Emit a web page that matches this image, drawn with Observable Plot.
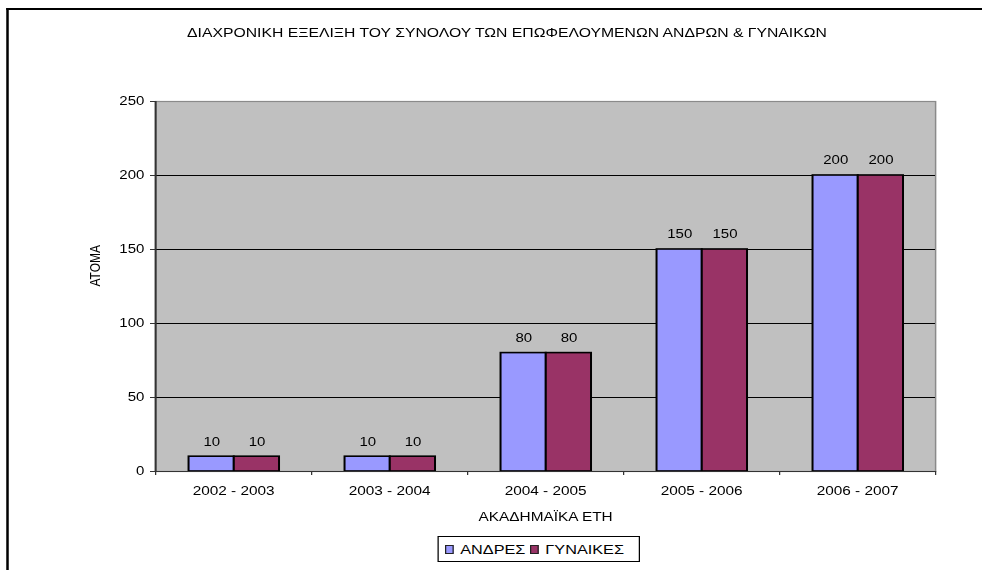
<!DOCTYPE html>
<html>
<head>
<meta charset="utf-8">
<script src="https://cdn.jsdelivr.net/npm/d3@7"></script>
<script src="https://cdn.jsdelivr.net/npm/@observablehq/plot@0.6"></script>
<style>
  html, body { margin: 0; padding: 0; background: #fff; }
  #page { position: relative; width: 982px; height: 570px; overflow: hidden; }
  #wrap { position: absolute; left: 0; top: 0; height: 570px; transform-origin: 0 0; font-family: "Liberation Sans", Arial, sans-serif; color: #000; }
  #border { position: absolute; border-left: 2px solid #000; border-top: 2px solid #000; }
  #title { position: absolute; font-size: 12.6px; white-space: nowrap; transform: translate(-50%, -50%); }
  #legend { position: absolute; border: 1px solid #000; box-sizing: border-box; display: flex; align-items: center; justify-content: flex-start; font-size: 13px; background: #fff; }
  .sw { display: inline-block; border: 1.5px solid #222; box-sizing: border-box; }
  .item { display: inline-flex; align-items: center; }
  svg { position: absolute; left: 0; top: 0; }
</style>
</head>
<body>
<div id="page"><div id="wrap"><div id="border"></div><div id="title"></div><div id="legend"></div></div></div>
<script>
// ---- data ----
const title = "ΔΙΑΧΡΟΝΙΚΗ ΕΞΕΛΙΞΗ ΤΟΥ ΣΥΝΟΛΟΥ ΤΩΝ ΕΠΩΦΕΛΟΥΜΕΝΩΝ ΑΝΔΡΩΝ & ΓΥΝΑΙΚΩΝ";
const categories = ["2002 - 2003", "2003 - 2004", "2004 - 2005", "2005 - 2006", "2006 - 2007"];
const series = ["ΑΝΔΡΕΣ", "ΓΥΝΑΙΚΕΣ"];
const men = [10, 10, 80, 150, 200];
const women = [10, 10, 80, 150, 200];
const colors = ["#9999FF", "#993366"];
const yTicks = [0, 50, 100, 150, 200, 250];
const yLabel = "ΑΤΟΜΑ";
const xLabel = "ΑΚΑΔΗΜΑΪΚΑ ΕΤΗ";

// ---- layout (horizontal stretch like the original) ----
const S = 1.25;            // horizontal stretch factor
const W = 982 / S;
const H = 570;
const px = v => v / S;     // convert page x to unscaled x

const wrap = document.getElementById("wrap");
wrap.style.width = W + "px";
wrap.style.transform = `scaleX(${S})`;

const border = document.getElementById("border");
border.style.left = px(6) + "px";
border.style.top = "8px";
border.style.width = (W) + "px";
border.style.height = "600px";

const t = document.getElementById("title");
t.textContent = title;
t.style.left = px(507) + "px";
t.style.top = "33px";

// bar offsets inside each category slot (fractions of the slot)
const slot = [[0.215, 0.505], [0.505, 0.795]];
const rows = [];
categories.forEach((c, i) => {
  [men, women].forEach((vals, s) => {
    rows.push({cat: c, series: series[s], value: vals[i], x1: i + slot[s][0], x2: i + slot[s][1]});
  });
});

const chart = Plot.plot({
  width: W,
  height: H,
  marginLeft: px(155),
  marginRight: W - px(935),
  marginTop: 101,
  marginBottom: H - 471,
  style: {fontFamily: "Liberation Sans, Arial, sans-serif", fontSize: "12px", background: "transparent", overflow: "visible"},
  x: {domain: [0, categories.length], axis: null},
  y: {domain: [0, 250], axis: null},
  color: {domain: series, range: colors},
  marks: [
    Plot.frame({fill: "#C0C0C0", stroke: "#8a8a8a", strokeWidth: 1.2}),
    Plot.ruleY(yTicks.filter(d => d > 0 && d < 250), {stroke: "#000", strokeWidth: 1}),
    Plot.rectY(rows, {x1: "x1", x2: "x2", y: "value", fill: "series", stroke: "#000", strokeWidth: 1.6}),
    Plot.text(rows, {x: d => (d.x1 + d.x2) / 2, y: "value", text: d => String(d.value), dy: -15, fontSize: 12, fill: "#000"}),
    Plot.ruleX([0], {stroke: "#333", strokeWidth: 1.6}),
    Plot.ruleY([0], {stroke: "#333", strokeWidth: 1.2}),
    // y ticks + labels
    Plot.axisY(yTicks, {tickSize: 4, tickPadding: 5, label: null, fontSize: 12, stroke: "#333"}),
    // x boundary ticks
    Plot.axisX(d3.range(categories.length + 1), {tickSize: 4, tickFormat: () => "", label: null, stroke: "#333"}),
    // x category labels
    Plot.axisX(d3.range(categories.length).map(i => i + 0.5), {tickSize: 0, tickPadding: 15, tickFormat: d => categories[Math.floor(d)], label: null, fontSize: 12.3}),
    // axis titles
    Plot.text([xLabel], {frameAnchor: "bottom", dy: 50, text: d => d, fontSize: 12.3, fill: "#000"}),
    Plot.text([yLabel], {frameAnchor: "left", dx: -(px(155) - px(95)), rotate: -90, text: d => d, fontSize: 12, fill: "#000"})
  ]
});
wrap.appendChild(chart);

// legend
const legend = document.getElementById("legend");
legend.style.left = px(437) + "px";
legend.style.top = "536px";
legend.style.width = (px(640) - px(437)) + "px";
legend.style.height = "26px";
legend.style.paddingLeft = px(7) + "px";
series.forEach((s, i) => {
  const item = document.createElement("span");
  item.className = "item";
  if (i > 0) item.style.marginLeft = px(5) + "px";
  const sw = document.createElement("span");
  sw.className = "sw";
  sw.style.width = px(9) + "px";
  sw.style.height = "9px";
  sw.style.marginRight = px(6) + "px";
  sw.style.background = colors[i];
  const lab = document.createElement("span");
  lab.textContent = s;
  item.appendChild(sw);
  item.appendChild(lab);
  legend.appendChild(item);
});
</script>
</body>
</html>
